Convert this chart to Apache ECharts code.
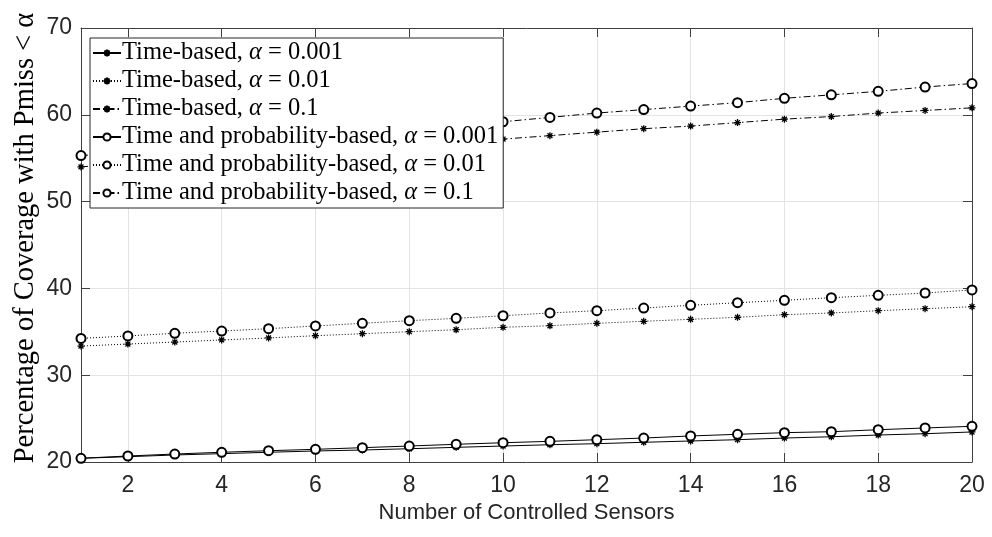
<!DOCTYPE html>
<html>
<head>
<meta charset="utf-8">
<title>Coverage vs. controlled sensors</title>
<script src="https://cdn.jsdelivr.net/npm/echarts@6/dist/echarts.min.js"></script>
<style>
  html, body { margin: 0; padding: 0; background: #fff; }
  #chart { width: 992px; height: 537px; }
</style>
</head>
<body>
<div id="chart"></div>
<script>
// Number of controlled sensors (x values)
const sensors = [1, 2, 3, 4, 5, 6, 7, 8, 9, 10, 11, 12, 13, 14, 15, 16, 17, 18, 19, 20];
const xTicks = [2, 4, 6, 8, 10, 12, 14, 16, 18, 20];
const yTicks = [20, 30, 40, 50, 60, 70];

// Percentage of coverage with Pmiss < alpha
const timeA001 = [20.43, 20.61, 20.81, 20.96, 21.12, 21.27, 21.38, 21.53, 21.69, 21.84,
                  21.99, 22.11, 22.27, 22.42, 22.57, 22.76, 22.91, 23.11, 23.26, 23.46];
const timeA01  = [33.36, 33.59, 33.82, 34.06, 34.29, 34.55, 34.78, 35.01, 35.24, 35.52,
                  35.70, 35.98, 36.21, 36.44, 36.67, 36.97, 37.17, 37.43, 37.66, 37.89];
const timeA1   = [54.0, 54.4, 54.7, 55.1, 55.4, 55.8, 56.2, 56.5, 56.9, 57.2,
                  57.6, 58.0, 58.4, 58.7, 59.1, 59.5, 59.8, 60.2, 60.5, 60.8];
const probA001 = [20.43, 20.69, 20.92, 21.12, 21.30, 21.46, 21.65, 21.84, 22.04, 22.22,
                  22.38, 22.57, 22.76, 23.00, 23.19, 23.38, 23.49, 23.72, 23.92, 24.11];
const probA01  = [34.24, 34.52, 34.83, 35.09, 35.36, 35.67, 35.98, 36.28, 36.55, 36.85,
                  37.17, 37.43, 37.74, 38.05, 38.35, 38.63, 38.93, 39.20, 39.47, 39.82];
const probA1   = [55.3, 55.7, 56.1, 56.5, 57.0, 57.4, 57.8, 58.3, 58.7, 59.2,
                  59.7, 60.2, 60.6, 61.0, 61.4, 61.9, 62.3, 62.7, 63.2, 63.6];

const seriesNames = [
  'Time-based, α = 0.001',
  'Time-based, α = 0.01',
  'Time-based, α = 0.1',
  'Time and probability-based, α = 0.001',
  'Time and probability-based, α = 0.01',
  'Time and probability-based, α = 0.1'
];

const STAR = 'path://M5 0L5 10M0 5L10 5M1.5 1.5L8.5 8.5M8.5 1.5L1.5 8.5';
const SOLID = 'solid';
const DOTTED = [1, 2];
const DASHDOT = [7, 3, 1.5, 3];

const AXIS_COLOR = '#404040';
const TEXT_COLOR = '#262626';
const SERIF = '"Liberation Serif", "DejaVu Serif", serif';
const SANS = '"Liberation Sans", Arial, sans-serif';

function makeSeries(name, values, dash, star) {
  return {
    name: name,
    type: 'line',
    data: sensors.map((x, i) => [x, values[i]]),
    symbol: star ? STAR : 'emptyCircle',
    symbolSize: star ? 7 : 9,
    showAllSymbol: true,
    lineStyle: { color: '#000', width: 1, type: dash },
    itemStyle: star
      ? { color: '#000', borderColor: '#000', borderWidth: 1.3 }
      : { color: '#000', borderColor: '#000', borderWidth: 1.1 },
    emphasis: { disabled: true },
    animation: false
  };
}

function legendLabel(name) {
  const parts = name.split('α');
  return '{n|' + parts[0] + '}{a|α}{n|' + parts[1] + '}';
}

const chart = echarts.init(document.getElementById('chart'), null, { renderer: 'canvas' });

const tickCommon = { show: true, inside: true, length: 9, lineStyle: { color: AXIS_COLOR, width: 1 } };

chart.setOption({
  backgroundColor: '#fff',
  animation: false,
  grid: { left: 81, right: 20, top: 28, bottom: 75, containLabel: false },
  legend: {
    orient: 'vertical',
    left: 90,
    top: 38,
    backgroundColor: '#fff',
    borderColor: '#262626',
    borderWidth: 1,
    borderRadius: 0,
    padding: [2, 5, 2, 2],
    itemWidth: 28,
    itemHeight: 9,
    itemGap: 2,
    align: 'left',
    data: seriesNames,
    formatter: legendLabel,
    textStyle: {
      color: '#000',
      fontFamily: SERIF,
      fontSize: 24.5,
      lineHeight: 26,
      padding: [0, 0, 0, -4],
      rich: {
        n: { fontFamily: SERIF, fontSize: 24.5, lineHeight: 26, color: '#000' },
        a: { fontFamily: SERIF, fontSize: 24.5, lineHeight: 26, fontStyle: 'italic', color: '#000' }
      }
    }
  },
  xAxis: [{
    type: 'value',
    min: 1,
    max: 20,
    name: 'Number of Controlled Sensors',
    nameLocation: 'middle',
    nameGap: 40,
    nameTextStyle: { fontFamily: SANS, fontSize: 22, color: TEXT_COLOR },
    axisLine: { show: true, onZero: false, lineStyle: { color: AXIS_COLOR, width: 1 } },
    axisTick: Object.assign({ customValues: xTicks }, tickCommon),
    axisLabel: { customValues: xTicks, fontFamily: SANS, fontSize: 23, color: TEXT_COLOR, margin: 12 },
    splitLine: { show: true, lineStyle: { color: '#e3e3e3', width: 1 } }
  }, {
    type: 'value',
    position: 'top',
    min: 1,
    max: 20,
    axisLine: { show: true, onZero: false, lineStyle: { color: AXIS_COLOR, width: 1 } },
    axisTick: Object.assign({ customValues: xTicks }, tickCommon),
    axisLabel: { show: false },
    splitLine: { show: false }
  }],
  yAxis: [{
    type: 'value',
    min: yTicks[0],
    max: yTicks[yTicks.length - 1],
    interval: 10,
    axisLine: { show: true, onZero: false, lineStyle: { color: AXIS_COLOR, width: 1 } },
    axisTick: tickCommon,
    axisLabel: { fontFamily: SANS, fontSize: 23, color: TEXT_COLOR, margin: 9 },
    splitLine: { show: true, lineStyle: { color: '#e3e3e3', width: 1 } }
  }, {
    type: 'value',
    position: 'right',
    min: yTicks[0],
    max: yTicks[yTicks.length - 1],
    interval: 10,
    axisLine: { show: true, onZero: false, lineStyle: { color: AXIS_COLOR, width: 1 } },
    axisTick: tickCommon,
    axisLabel: { show: false },
    splitLine: { show: false }
  }],
  graphic: [{
    type: 'text',
    x: 26,
    y: 238,
    rotation: Math.PI / 2,
    style: {
      text: 'Percentage of Coverage with Pmiss < α',
      fontFamily: SERIF,
      fontSize: 28.5,
      fill: '#000',
      align: 'center',
      verticalAlign: 'middle'
    }
  }],
  series: [
    makeSeries(seriesNames[0], timeA001, SOLID, true),
    makeSeries(seriesNames[1], timeA01, DOTTED, true),
    makeSeries(seriesNames[2], timeA1, DASHDOT, true),
    makeSeries(seriesNames[3], probA001, SOLID, false),
    makeSeries(seriesNames[4], probA01, DOTTED, false),
    makeSeries(seriesNames[5], probA1, DASHDOT, false)
  ]
});
</script>
</body>
</html>
